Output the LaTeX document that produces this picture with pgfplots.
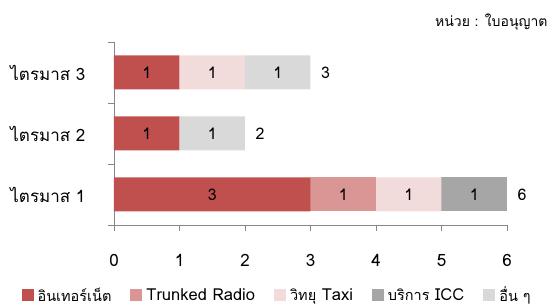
\documentclass[border=0pt]{standalone}
\usepackage{fontspec}
\setmainfont[Script=Thai]{Loma}
\usepackage{pgfplots}
\pgfplotsset{compat=1.18}
\usepackage{pgfplotstable}
\definecolor{cinet}{HTML}{C0504D}
\definecolor{ctrunk}{HTML}{D99694}
\definecolor{ctaxi}{HTML}{F2DCDB}
\definecolor{cicc}{HTML}{A6A6A6}
\definecolor{cother}{HTML}{D9D9D9}
\definecolor{axgray}{HTML}{868686}
\newcommand\thsz[1]{{\fontsize{14.5}{16}\selectfont #1}}
\pgfplotstableread{
y inet trunk taxi icc other total Linet Ltrunk Ltaxi Licc Lother
0 3 1 1 1 0 6 3 1 1 1 {}
1 1 0 0 0 1 2 1 {} {} {} 1
2 1 0 1 0 1 3 1 {} 1 {} 1
}\data
\pgfplotsset{
  seg/.style={draw=none, fill=#1, point meta=explicit symbolic,
    nodes near coords,
    every node near coord/.style={anchor=center, font=\fontsize{16}{18}\selectfont, text=black}},
}
\begin{document}
\begin{tikzpicture}
\path[use as bounding box] (-114pt,-82pt) rectangle (444pt,225pt);
\begin{axis}[
  scale only axis, width=393pt, height=183pt,
  xbar stacked, bar width=34pt,
  xmin=0, xmax=6, ymin=-0.5, ymax=2.5,
  xtick={0,1,2,3,4,5,6},
  ytick={0,1,2}, yticklabels={ไตรมาส 1, ไตรมาส 2, ไตรมาส 3},
  minor ytick={-0.5,0.5,1.5,2.5},
  axis x line*=bottom, axis y line*=left,
  axis line style={draw=axgray, line width=0.9pt, -},
  every tick/.style={draw=axgray, line width=0.9pt},
  major y tick style={draw=none},
  tick align=outside, major tick length=6pt, minor tick length=6pt,
  /pgf/number format/assume math mode=true,
  xticklabel style={font=\fontsize{17}{19}\selectfont, yshift=-20pt},
  yticklabel style={font=\fontsize{17}{19}\selectfont, xshift=-19pt},
  legend style={at={(0.415,-0.383)}, anchor=center, legend columns=5, draw=none,
    font=\fontsize{16.5}{18}\selectfont,
    /tikz/every even column/.append style={column sep=17pt}},
  legend image code/.code={\fill[#1] (0pt,-6pt) rectangle (12pt,6pt); \path (14pt,0pt);},
  clip=false,
]
\addplot[seg=cinet] table[x=inet, y=y, meta=Linet] {\data};
\addlegendentry{\thsz{อินเทอร์เน็ต}}
\addplot[seg=ctrunk] table[x=trunk, y=y, meta=Ltrunk] {\data};
\addlegendentry{Trunked Radio}
\addplot[seg=ctaxi] table[x=taxi, y=y, meta=Ltaxi] {\data};
\addlegendentry{\thsz{วิทยุ} Taxi}
\addplot[seg=cicc] table[x=icc, y=y, meta=Licc] {\data};
\addlegendentry{\thsz{บริการ} ICC}
\addplot[seg=cother] table[x=other, y=y, meta=Lother] {\data};
\addlegendentry{\thsz{อื่น ๆ}}
\end{axis}
\begin{axis}[
  scale only axis, width=393pt, height=183pt,
  xmin=0, xmax=6, ymin=-0.5, ymax=2.5, hide axis, clip=false,
]
\addplot[draw=none, mark=none, point meta=explicit symbolic, nodes near coords,
  every node near coord/.style={anchor=west, xshift=7pt, font=\fontsize{16}{18}\selectfont, text=black}]
  table[x=total, y=y, meta=total] {\data};
\end{axis}
\node[anchor=east, font=\fontsize{14}{16}\selectfont] at (437pt,203pt) {หน่วย : ใบอนุญาต};
\end{tikzpicture}
\end{document}
